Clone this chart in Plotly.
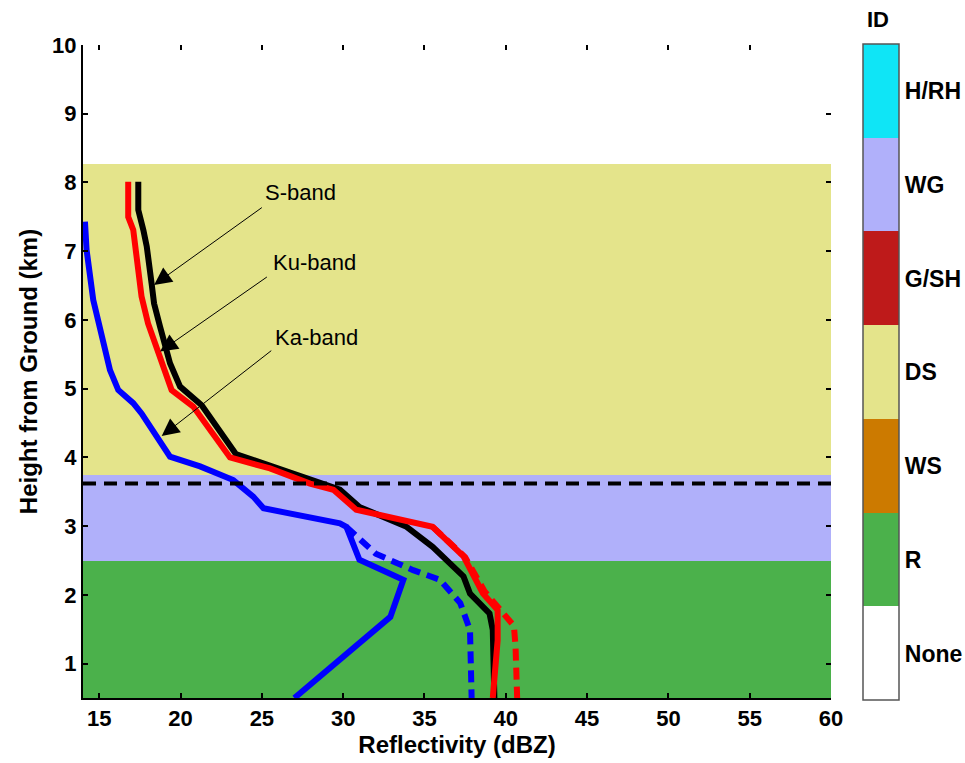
import plotly.graph_objects as go

# ---- hydrometeor classes (colour key) ----
id_labels = ["None", "R", "WS", "DS", "G/SH", "WG", "H/RH"]
id_colors = ["#ffffff", "#4bb14b", "#cc7a00", "#e4e48b", "#be1a1a", "#b0b0fa", "#0fe5f6"]

# layered classification of the column (edges in km, class index per layer)
layer_edges = [0.5, 2.5, 3.75, 8.27, 10.0]
layer_class = [1, 5, 3, 0]

# melting layer height (km)
melt_height = 3.62

# ---- reflectivity profiles (dBZ vs km) ----
s_dbz = [17.4, 17.4, 17.71, 17.92, 18.22, 18.37, 18.74, 19.1, 19.35, 19.97, 21.3, 23.4,
         26.1, 28.8, 29.8, 31.0, 33.9, 35.5, 37.4, 37.8, 39.0, 39.2, 39.3]
s_hgt = [8.01, 7.6, 7.31, 7.07, 6.53, 6.24, 5.9, 5.56, 5.37, 5.03, 4.76, 4.05,
         3.84, 3.62, 3.53, 3.28, 2.99, 2.7, 2.27, 2.02, 1.73, 1.49, 0.5]

ku_dbz = [16.78, 16.78, 17.09, 17.6, 18.0, 18.63, 18.94, 19.45, 20.78, 23.04, 25.5,
          27.96, 29.4, 30.8, 35.5, 37.4, 38.6, 39.5, 39.5, 39.2]
ku_hgt = [8.01, 7.5, 7.31, 6.34, 5.95, 5.51, 5.27, 4.98, 4.74, 4.0, 3.84,
          3.62, 3.53, 3.24, 2.99, 2.56, 2.02, 1.78, 1.34, 0.5]

ka_dbz = [14.12, 14.22, 14.63, 15.35, 15.66, 16.17, 17.09, 17.6, 19.35, 21.2, 23.24,
          24.47, 25.1, 29.8, 30.2, 31.0, 33.7, 32.9, 30.8, 27.0]
ka_hgt = [7.43, 7.02, 6.29, 5.51, 5.27, 4.98, 4.79, 4.64, 4.01, 3.87, 3.67,
          3.43, 3.26, 3.04, 2.99, 2.51, 2.22, 1.68, 1.25, 0.5]

# attenuation-corrected profiles below the melting layer
ku_corr_dbz = [35.5, 37.5, 38.7, 39.3, 40.5, 40.6, 40.7]
ku_corr_hgt = [2.99, 2.55, 2.05, 1.88, 1.55, 1.25, 0.5]

ka_corr_dbz = [30.2, 32.0, 34.3, 35.95, 37.2, 37.8, 37.9]
ka_corr_hgt = [2.99, 2.6, 2.36, 2.22, 1.88, 1.49, 0.5]

# band labels: text position, arrow tail, arrow tip (dBZ, km)
band_names = ["S-band", "Ku-band", "Ka-band"]
label_pos = [(27.36, 7.85), (28.24, 6.84), (28.37, 5.74)]
arrow_tail = [(25.09, 7.65), (25.40, 6.64), (25.67, 5.57)]
arrow_tip = [(18.37, 6.51), (18.74, 5.54), (18.84, 4.31)]

x_range = [14, 60]
y_range = [0.5, 10]

FONT = "Liberation Sans, Arial, sans-serif"

# discrete colour scale, one flat step per class
n = len(id_colors)
cscale = []
for i, c in enumerate(id_colors):
    cscale.append([i / n, c])
    cscale.append([(i + 1) / n, c])

fig = go.Figure()

fig.add_trace(go.Heatmap(
    x=x_range, y=layer_edges, z=[[c] for c in layer_class],
    zmin=-0.5, zmax=n - 0.5, colorscale=cscale, zsmooth=False,
    hoverinfo="skip", showscale=True,
    colorbar=dict(
        tickvals=list(range(n)), ticktext=id_labels, ticks="",
        thickness=36, thicknessmode="pixels",
        len=656, lenmode="pixels", y=1.001, yanchor="top",
        x=1.0428, xanchor="left", xpad=0, ypad=0,
        outlinewidth=1.5, outlinecolor="#555555",
        tickfont=dict(family=FONT, size=23, color="black", weight="bold"),
    ),
))

fig.add_trace(go.Scatter(x=ka_dbz, y=ka_hgt, mode="lines",
                         line=dict(color="#0000ff", width=6), showlegend=False))
fig.add_trace(go.Scatter(x=ka_corr_dbz, y=ka_corr_hgt, mode="lines",
                         line=dict(color="#0000ff", width=6, dash="12px,7px"), showlegend=False))
fig.add_trace(go.Scatter(x=s_dbz, y=s_hgt, mode="lines",
                         line=dict(color="#000000", width=6), showlegend=False))
fig.add_trace(go.Scatter(x=ku_dbz, y=ku_hgt, mode="lines",
                         line=dict(color="#ff0000", width=6), showlegend=False))
fig.add_trace(go.Scatter(x=ku_corr_dbz, y=ku_corr_hgt, mode="lines",
                         line=dict(color="#ff0000", width=6, dash="12px,7px"), showlegend=False))
fig.add_trace(go.Scatter(x=x_range, y=[melt_height, melt_height], mode="lines",
                         line=dict(color="#000000", width=4, dash="13px,8px"), showlegend=False))

# mirrored tick marks on top and right
fig.add_trace(go.Scatter(x=x_range, y=y_range, mode="none", xaxis="x2", yaxis="y2",
                         hoverinfo="skip", showlegend=False))

annotations = []
for name, (tx, ty), (ax, ay), (hx, hy) in zip(band_names, label_pos, arrow_tail, arrow_tip):
    annotations.append(dict(x=tx, y=ty, xref="x", yref="y", text=name, showarrow=False,
                            xanchor="center", yanchor="middle",
                            font=dict(family=FONT, size=22, color="black")))
    annotations.append(dict(x=hx, y=hy, ax=ax, ay=ay, xref="x", yref="y", axref="x", ayref="y",
                            text="", showarrow=True, arrowhead=2, arrowsize=3.5,
                            arrowwidth=1, arrowcolor="black", standoff=0, startstandoff=0))
annotations.append(dict(x=1.0628, y=1.039, xref="paper", yref="paper", text="ID",
                        xanchor="center", yanchor="middle", showarrow=False,
                        font=dict(family=FONT, size=22, color="black", weight="bold")))

axis_common = dict(showgrid=False, zeroline=False, ticks="inside", ticklen=5, tickwidth=1.5,
                   tickcolor="black")

fig.update_layout(
    width=965, height=763,
    margin=dict(l=83, r=134, t=45, b=65, autoexpand=False),
    paper_bgcolor="white", plot_bgcolor="white",
    font=dict(family=FONT, color="black"),
    showlegend=False,
    annotations=annotations,
    xaxis=dict(range=x_range, tick0=15, dtick=5, showline=True, linecolor="black", linewidth=2,
               tickfont=dict(size=22, weight="bold"),
               title=dict(text="Reflectivity (dBZ)", standoff=4,
                          font=dict(size=24, weight="bold")),
               **axis_common),
    yaxis=dict(range=y_range, tick0=1, dtick=1, showline=True, linecolor="black", linewidth=2,
               tickfont=dict(size=22, weight="bold"),
               title=dict(text="Height from Ground (km)", standoff=8,
                          font=dict(size=24, weight="bold")),
               **axis_common),
    xaxis2=dict(range=x_range, tick0=15, dtick=5, overlaying="x", side="top", anchor="y2",
                showticklabels=False, showline=False, **axis_common),
    yaxis2=dict(range=y_range, tick0=1, dtick=1, overlaying="y", side="right", anchor="x2",
                showticklabels=False, showline=False, **axis_common),
)

fig.write_html("out.html")
